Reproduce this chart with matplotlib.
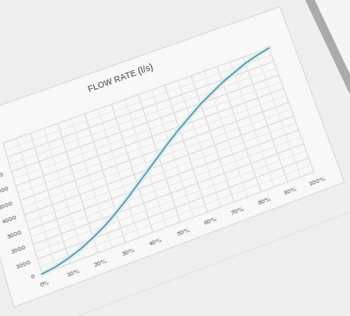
import numpy as np
import matplotlib.pyplot as plt
import matplotlib.transforms as mtransforms

# === Daten ===
valve_open = [0, 5, 10, 15, 20, 25, 30, 35, 40, 45, 50,
              55, 60, 65, 70, 75, 80, 85, 90, 95, 100]          # Öffnung in %
flow_rate = [0, 120, 350, 650, 1050, 1500, 2050, 2650, 3300, 3950, 4600,
             5250, 5850, 6400, 6950, 7400, 7850, 8200, 8550, 8800, 9000]  # l/s
x_ticks = list(range(0, 101, 10))
x_labels = [f"{v}%" for v in x_ticks]
y_ticks = list(range(0, 9001, 1000))
y_labels = [str(v) for v in y_ticks]
title = "FLOW RATE (l/s)"

X_MAX = 100.0
Y_MAX = 9000.0

# === Perspektive: Ecken der Plotfläche im Foto (Pixel, y nach unten) ===
src = [(0, 0), (1, 0), (1, 1), (0, 1)]
dst = [(42, 274), (314, 172), (269, 48), (3, 143)]


def homography(src, dst):
    A, b = [], []
    for (u, v), (X, Y) in zip(src, dst):
        A.append([u, v, 1, 0, 0, 0, -u * X, -v * X]); b.append(X)
        A.append([0, 0, 0, u, v, 1, -u * Y, -v * Y]); b.append(Y)
    h = np.linalg.solve(np.array(A, float), np.array(b, float))
    return np.append(h, 1.0).reshape(3, 3)


H = homography(src, dst)


class Persp(mtransforms.Transform):
    input_dims = 2
    output_dims = 2

    def transform_non_affine(self, pts):
        pts = np.asarray(pts, float).reshape(-1, 2)
        u = pts[:, 0] / X_MAX
        v = pts[:, 1] / Y_MAX
        w = H[2, 0] * u + H[2, 1] * v + H[2, 2]
        X = (H[0, 0] * u + H[0, 1] * v + H[0, 2]) / w
        Y = (H[1, 0] * u + H[1, 1] * v + H[1, 2]) / w
        return np.column_stack([X, Y])


persp = Persp()


def angle_at(x, y, dx, dy):
    # lokaler Winkel einer Richtung im Bild (für Textrotation)
    p = persp.transform_non_affine([(x, y), (x + dx, y + dy)])
    d = p[1] - p[0]
    return np.degrees(np.arctan2(-d[1], d[0]))


fig = plt.figure(figsize=(3.5, 3.16), dpi=100, facecolor="#efefef")
ax = fig.add_axes([0, 0, 1, 1])
ax.set_xlim(0, 350)
ax.set_ylim(316, 0)
ax.axis("off")
tr = persp + ax.transData

# === Diagrammfläche (Rahmen) ===
fx = [-12, 109, 109, -12, -12]
fy = [-1350, -1350, 11500, 11500, -1350]
ax.fill(fx, fy, color="#f8f8f8", transform=tr, zorder=0)
ax.plot(fx, fy, color="#dedede", lw=0.9, transform=tr, zorder=1)
ax.plot([-30, 140], [-3300, -3300], color="#e6e6e6", lw=0.9, transform=tr, zorder=1)

# Dunkler Rand oben rechts (Ordnerkante im Foto)
ax.fill([350, 350, 314, 305], [0, 92, 0, 0], color="#f5f5f5", zorder=0)
ax.fill([306, 314, 350, 350], [0, 0, 76, 93], color="#ababab", zorder=5)

# === Gitterlinien ===
for xv in np.arange(0, 101, 5):
    major = xv % 10 == 0
    ax.plot([xv, xv], [0, Y_MAX], color="#e1e1e1" if major else "#ebebeb",
            lw=0.9 if major else 0.7, transform=tr, zorder=2)
for yv in np.arange(0, Y_MAX + 1, 500):
    major = yv % 1000 == 0
    ax.plot([0, X_MAX], [yv, yv], color="#e1e1e1" if major else "#ebebeb",
            lw=0.9 if major else 0.7, transform=tr, zorder=2)

# === Kurve ===
ax.plot(valve_open, flow_rate, color="#ddf3f6", lw=4, alpha=0.9,
        transform=tr, zorder=3, solid_capstyle="round")
ax.plot(valve_open, flow_rate, color="#6a9fa8", lw=1.2,
        transform=tr, zorder=4, solid_capstyle="round")

# === Achsenbeschriftung ===
for xv, lab in zip(x_ticks, x_labels):
    rot = angle_at(xv, 0, 10, 0)
    ax.text(xv, -500, lab, transform=tr, fontsize=4.2, color="#959595",
            fontweight="bold", ha="center", va="top", rotation=rot,
            rotation_mode="anchor", zorder=6)
for yv, lab in zip(y_ticks, y_labels):
    rot = angle_at(0, yv, 10, 0)
    ax.text(-2.5, yv, lab, transform=tr, fontsize=4.2, color="#959595",
            fontweight="bold", ha="right", va="center", rotation=rot,
            rotation_mode="anchor", zorder=6)

rot = angle_at(46, 10500, 10, 0)
ax.text(46, 10500, title, transform=tr, fontsize=6.2, color="#767676",
        fontweight="bold", family="Liberation Sans", ha="center", va="center",
        rotation=rot, rotation_mode="anchor", zorder=6)

fig.savefig("out.png", dpi=100, facecolor=fig.get_facecolor())
